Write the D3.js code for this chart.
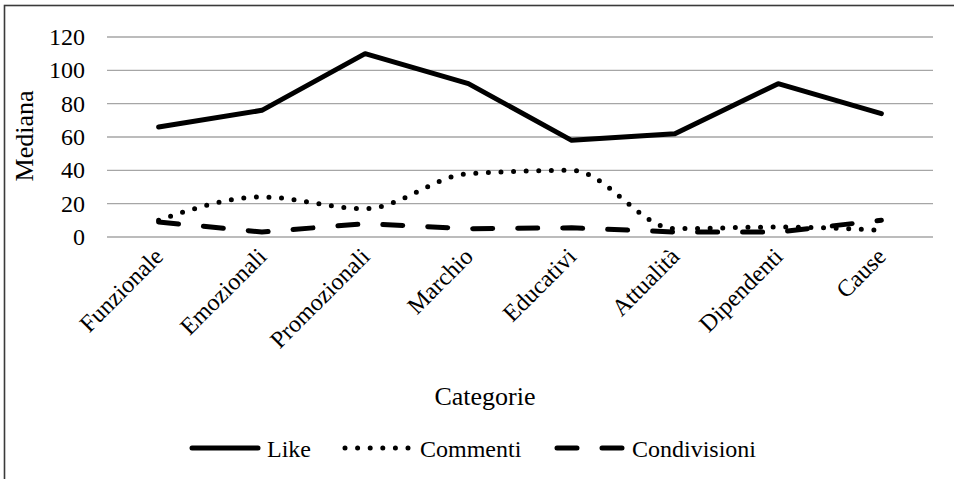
<!DOCTYPE html>
<html>
<head>
<meta charset="utf-8">
<script src="https://cdn.jsdelivr.net/npm/d3@7"></script>
<style>
  body { margin: 0; background: #fff; }
  text { font-family: "Liberation Serif", "Times New Roman", serif; fill: #000; }
</style>
</head>
<body>
<div id="chart"></div>
<script>
// categories and median values
var categories = ["Funzionale", "Emozionali", "Promozionali", "Marchio", "Educativi", "Attualità", "Dipendenti", "Cause"];
var like = [66, 76, 110, 92, 58, 62, 92, 74];
var commenti = [10, 24, 17, 38, 40, 5, 6, 4];
var condivisioni = [9, 3, 8, 5, 5.5, 3, 3, 10];
var yTicks = [0, 20, 40, 60, 80, 100, 120];

var W = 954, H = 479;

var svg = d3.select("#chart")
    .append("svg")
    .attr("width", W)
    .attr("height", H)
    .attr("font-family", "Liberation Serif");

// outer frame (runs off right/bottom like the screenshot)
svg.append("rect")
    .attr("x", 4.5).attr("y", 5.5)
    .attr("width", 1000).attr("height", 1000)
    .attr("fill", "none")
    .attr("stroke", "#3a3a3a")
    .attr("stroke-width", 1.6);

var x = d3.scalePoint()
    .domain(categories)
    .range([107, 933])
    .padding(0.5);

var y = d3.scaleLinear()
    .domain([0, 120])
    .range([237, 37]);

// gridlines
svg.append("g")
    .selectAll("line")
    .data(yTicks)
    .enter()
    .append("line")
    .attr("x1", 107).attr("x2", 933)
    .attr("y1", d => y(d)).attr("y2", d => y(d))
    .attr("stroke", "#a6a6a6")
    .attr("stroke-width", 1.4);

// y tick labels
svg.append("g")
    .selectAll("text")
    .data(yTicks)
    .enter()
    .append("text")
    .attr("x", 85)
    .attr("y", d => y(d))
    .attr("dy", "0.34em")
    .attr("text-anchor", "end")
    .style("font-size", "24px")
    .text(d => d);

// x category labels, rotated
svg.append("g")
    .selectAll("text")
    .data(categories)
    .enter()
    .append("text")
    .attr("transform", d => "translate(" + (x(d) + 6) + ",258) rotate(-45)")
    .attr("text-anchor", "end")
    .style("font-size", "24px")
    .text(d => d);

// axis titles
svg.append("text")
    .attr("transform", "translate(33,136) rotate(-90)")
    .attr("text-anchor", "middle")
    .style("font-size", "26px")
    .text("Mediana");

svg.append("text")
    .attr("x", 485).attr("y", 405)
    .attr("text-anchor", "middle")
    .style("font-size", "26px")
    .text("Categorie");

// series
var series = [
    { name: "Like", values: like, dash: null, curve: d3.curveLinear },
    { name: "Commenti", values: commenti, dash: "0,12.6", curve: d3.curveMonotoneX },
    { name: "Condivisioni", values: condivisioni, dash: "20,25", curve: d3.curveLinear }
];

var line = function (curve) {
    return d3.line()
        .x((d, i) => x(categories[i]))
        .y(d => y(d))
        .curve(curve);
};

svg.append("g")
    .selectAll("path")
    .data(series)
    .enter()
    .append("path")
    .attr("d", d => line(d.curve)(d.values))
    .attr("fill", "none")
    .attr("stroke", "#000")
    .attr("stroke-width", 5)
    .attr("stroke-linecap", "round")
    .attr("stroke-linejoin", "round")
    .attr("stroke-dasharray", d => d.dash);

// legend
var legendX = [192, 345, 557];
var leg = svg.append("g")
    .selectAll("g")
    .data(series)
    .enter()
    .append("g")
    .attr("transform", (d, i) => "translate(" + legendX[i] + ",448)");

leg.append("line")
    .attr("x1", 0).attr("x2", 66)
    .attr("y1", 0).attr("y2", 0)
    .attr("stroke", "#000")
    .attr("stroke-width", 5)
    .attr("stroke-linecap", "round")
    .attr("stroke-dasharray", d => d.dash);

leg.append("text")
    .attr("x", 75)
    .attr("y", 9)
    .style("font-size", "24px")
    .text(d => d.name);
</script>
</body>
</html>
